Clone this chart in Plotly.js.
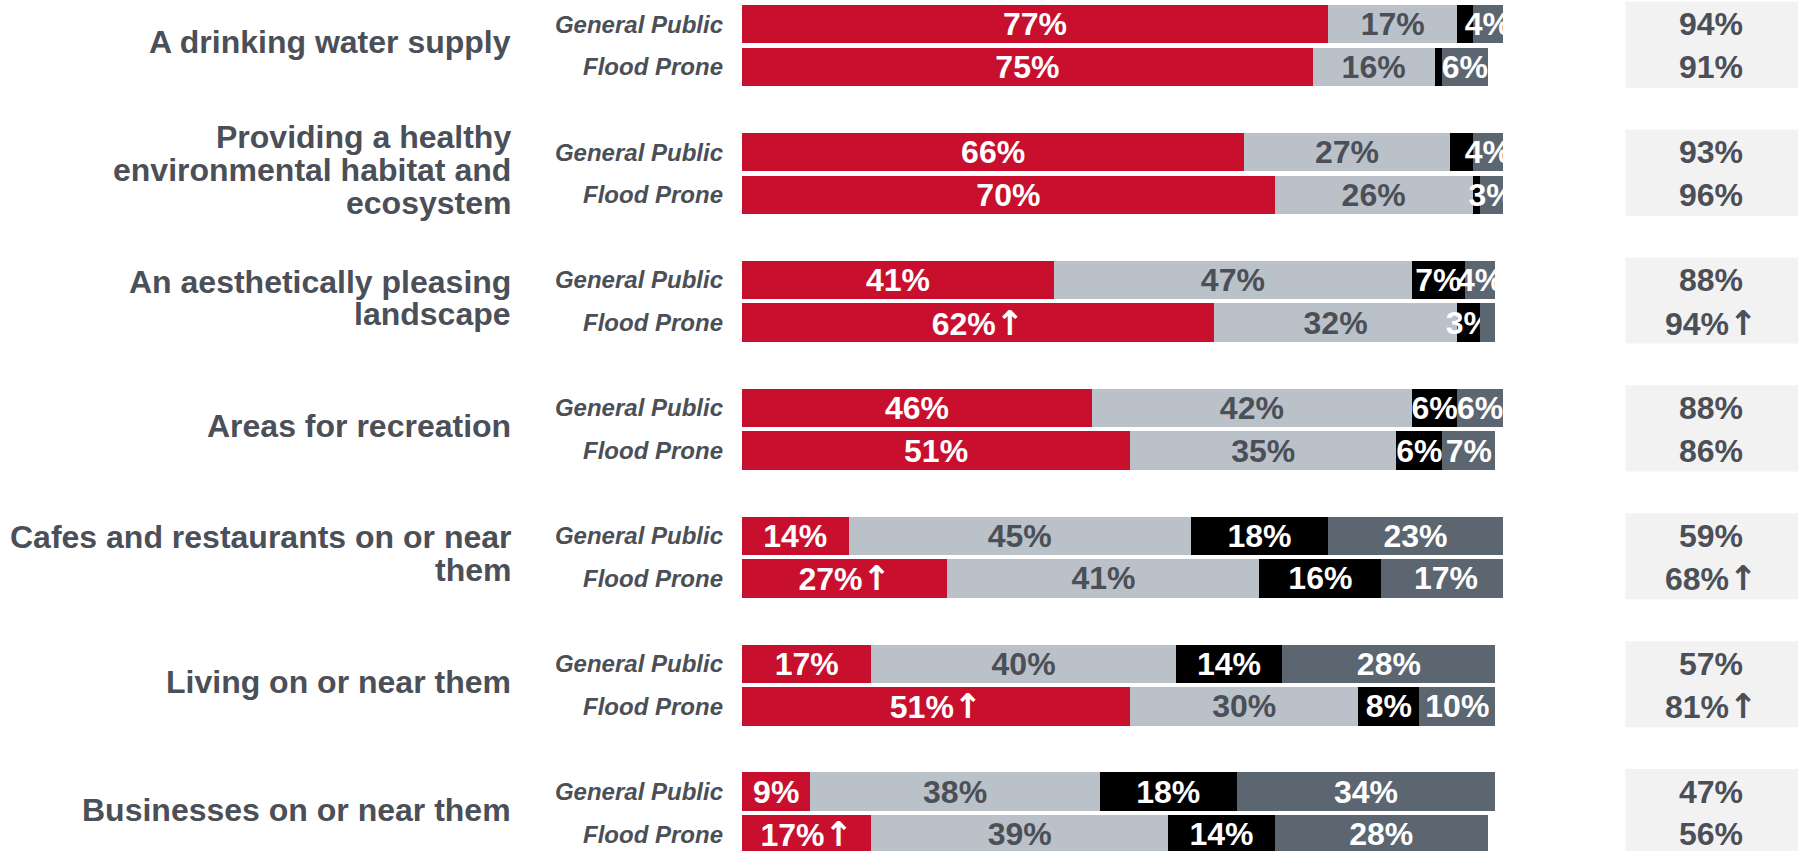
<!DOCTYPE html>
<html>
<head>
<meta charset="utf-8">
<script src="https://cdn.plot.ly/plotly-3.0.1.min.js"></script>
<style>
  html, body { margin: 0; padding: 0; background: #ffffff; }
  #chart { width: 1798px; height: 851px; }
</style>
</head>
<body>
<div id="chart"></div>
<script>
// ---- Data ----
const categoryLines = [
  ["A drinking water supply"],
  ["Providing a healthy", "environmental habitat and", "ecosystem"],
  ["An aesthetically pleasing", "landscape"],
  ["Areas for recreation"],
  ["Cafes and restaurants on or near", "them"],
  ["Living on or near them"],
  ["Businesses on or near them"]
];
const groupNames = ["General Public", "Flood Prone"];

const veryGP    = [77, 66, 41, 46, 14, 17,  9];
const veryFP    = [75, 70, 62, 51, 27, 51, 17];
const fairlyGP  = [17, 27, 47, 42, 45, 40, 38];
const fairlyFP  = [16, 26, 32, 35, 41, 30, 39];
const notVeryGP = [ 2,  3,  7,  6, 18, 14, 18];
const notVeryFP = [ 1,  1,  3,  6, 16,  8, 14];
const notAllGP  = [ 4,  4,  4,  6, 23, 28, 34];
const notAllFP  = [ 6,  3,  2,  7, 17, 10, 28];

// significantly higher for Flood Prone (arrow)
const sigVeryFP = [0, 0, 1, 0, 1, 1, 1];
const netGP     = [94, 93, 88, 88, 59, 57, 47];
const netFP     = [91, 96, 94, 86, 68, 81, 56];
const sigNetFP  = [0, 0, 1, 0, 1, 1, 0];

// segments whose labels are not printed in the original
const unlabeled = ["notVery-GP-0", "notVery-FP-0", "notVery-GP-1", "notVery-FP-1", "notAll-FP-2"];

// ---- Styling ----
const FONT = "Liberation Sans, Arial, Helvetica, sans-serif";
const TEXTGRAY = "#4b4f57";
const ARROW = "<span style=\"font-family:'DejaVu Sans';font-weight:bold;font-size:34px\">\u2191</span>";

function pos(g, k) { return 3 * g + k; }

function buildTrace(key, name, gpVals, fpVals, color, textColor, sigArr) {
  const x = [], y = [], text = [];
  for (let g = 0; g < gpVals.length; g++) {
    [[gpVals, "GP", 0], [fpVals, "FP", 1]].forEach(([arr, tag, k]) => {
      const v = arr[g];
      x.push(v);
      y.push(pos(g, k));
      let t = v + "%";
      if (tag === "FP" && sigArr && sigArr[g]) t += ARROW;
      if (unlabeled.indexOf(key + "-" + tag + "-" + g) >= 0) t = "";
      text.push(t);
    });
  }
  return {
    type: "bar", orientation: "h", name: name,
    x: x, y: y, width: 0.9,
    text: text, textposition: "inside", insidetextanchor: "middle",
    textangle: 0, constraintext: "none",
    textfont: { family: FONT, size: 32, color: textColor, weight: 700 },
    marker: { color: color, line: { width: 0 } },
    hoverinfo: "skip", cliponaxis: true
  };
}

const traces = [
  buildTrace("very",    "Very important",       veryGP,    veryFP,    "#c8102e", "#ffffff", sigVeryFP),
  buildTrace("fairly",  "Fairly important",     fairlyGP,  fairlyFP,  "#bbc1c8", TEXTGRAY, null),
  buildTrace("notVery", "Not very important",   notVeryGP, notVeryFP, "#000000", "#ffffff", null),
  buildTrace("notAll",  "Not at all important", notAllGP,  notAllFP,  "#5b6670", "#ffffff", null)
];

const tickvals = [], ticktext = [];
for (let g = 0; g < categoryLines.length; g++) {
  tickvals.push(pos(g, 0), pos(g, 1));
  ticktext.push(groupNames[0], groupNames[1]);
}

const annotations = [];
const shapes = [];
const LINE_PITCH = 32.7;
for (let g = 0; g < categoryLines.length; g++) {
  const lines = categoryLines[g];
  const n = lines.length;
  lines.forEach((ln, i) => {
    annotations.push({
      xref: "paper", yref: "y", x: 0, y: pos(g, 0.5),
      xanchor: "right", yanchor: "middle", xshift: -229.5,
      yshift: 3.4 - (i - (n - 1) / 2) * LINE_PITCH,
      text: ln, showarrow: false,
      font: { family: FONT, size: 32, color: TEXTGRAY, weight: 700 }
    });
  });
  shapes.push({
    type: "rect", xref: "paper", yref: "y",
    x0: 1.1608, x1: 1.40, y0: pos(g, -0.53), y1: pos(g, 1.49),
    fillcolor: "#f2f2f2", line: { width: 0 }, layer: "below"
  });
  [[netGP[g], 0, false], [netFP[g], 1, sigNetFP[g] === 1]].forEach(([v, k, sig]) => {
    annotations.push({
      xref: "paper", yref: "y", x: 1.2738, y: pos(g, k),
      xanchor: "center", yanchor: "middle",
      text: v + "%" + (sig ? ARROW : ""), showarrow: false,
      font: { family: FONT, size: 32, color: TEXTGRAY, weight: 700 }
    });
  });
}

const layout = {
  width: 1798, height: 851,
  margin: { l: 742, r: 294.5, t: 0, b: 0, pad: 0 },
  paper_bgcolor: "#ffffff", plot_bgcolor: "rgba(0,0,0,0)",
  barmode: "stack", showlegend: false,
  font: { family: FONT, color: TEXTGRAY },
  xaxis: { range: [0, 100], visible: false, showgrid: false, zeroline: false, fixedrange: true },
  yaxis: {
    range: [19.392, -0.5676], tickmode: "array", tickvals: tickvals, ticktext: ticktext,
    showgrid: false, zeroline: false, showline: false, ticks: "",
    ticklabelstandoff: 18,
    tickfont: { family: FONT, size: 24, color: TEXTGRAY, weight: 700, style: "italic" },
    fixedrange: true
  },
  annotations: annotations,
  shapes: shapes
};

Plotly.newPlot("chart", traces, layout, { displayModeBar: false, staticPlot: true });
</script>
</body>
</html>
